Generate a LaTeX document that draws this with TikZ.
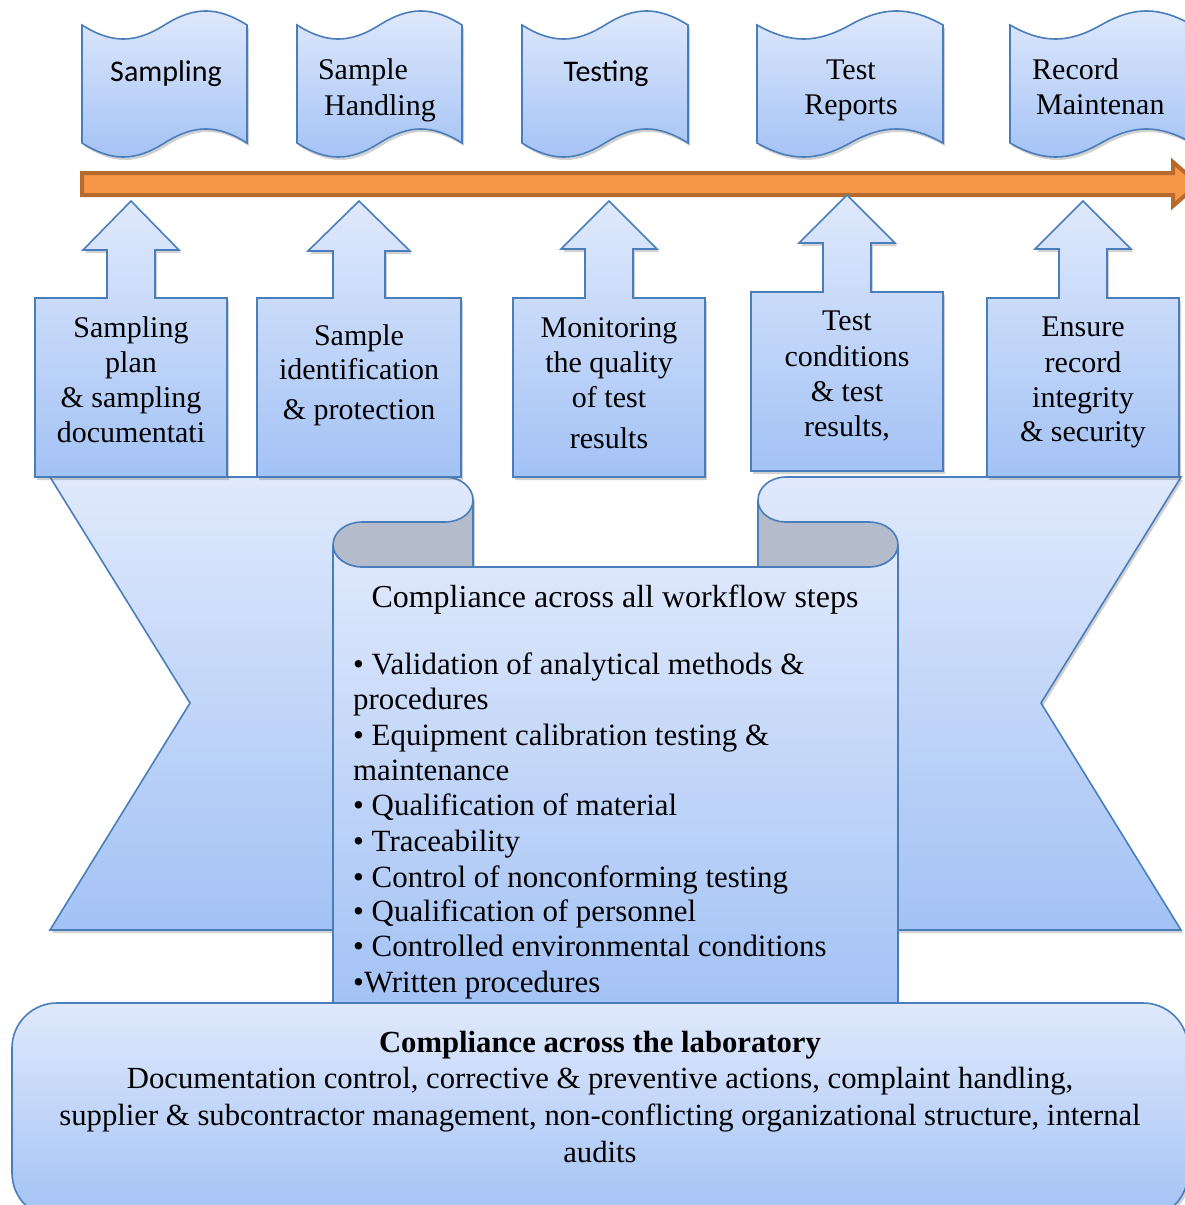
\documentclass[tikz,border=0pt]{standalone}
\usepackage{fontspec}
\setmainfont{Liberation Serif}
\newfontfamily\calfont{Carlito}
\usetikzlibrary{shadows}
\definecolor{bord}{RGB}{74,126,187}
\definecolor{lt}{RGB}{224,233,252}
\definecolor{dk}{RGB}{163,194,245}
\definecolor{fold}{RGB}{180,188,204}
\definecolor{orfill}{RGB}{247,150,70}
\definecolor{ordraw}{RGB}{182,106,46}
\tikzset{
 blueshape/.style={draw=bord, line width=1.6pt, top color=lt, bottom color=dk, line join=miter},
 shad/.style={drop shadow={shadow xshift=2pt, shadow yshift=-3pt, opacity=0.3, fill=black!60}},
 txt/.style={font=\fontsize{30}{35}\selectfont, inner sep=0pt, anchor=base},
 txtl/.style={txt, anchor=base west},
 ptxt/.style={txt, anchor=base west, font=\fontsize{30.9}{35}\selectfont},
 btxt/.style={txt, font=\fontsize{30.7}{35}\selectfont},
 sans/.style={txt, font=\calfont\fontsize{30}{35}\selectfont},
}
\newcommand\tape[2]{%
 \pgfmathsetmacro\tpW{#2-#1}%
 \pgfmathsetmacro\tpA{#1+0.18*\tpW}%
 \pgfmathsetmacro\tpB{#1+0.32*\tpW}%
 \pgfmathsetmacro\tpM{#1+0.5*\tpW}%
 \pgfmathsetmacro\tpC{#1+0.68*\tpW}%
 \pgfmathsetmacro\tpD{#1+0.82*\tpW}%
 \path[blueshape,shad] (#1,25) .. controls (\tpA,43.7) and (\tpB,43.7) .. (\tpM,25)
   .. controls (\tpC,6.3) and (\tpD,6.3) .. (#2,25) -- (#2,143)
   .. controls (\tpD,124.3) and (\tpC,124.3) .. (\tpM,143)
   .. controls (\tpB,161.7) and (\tpA,161.7) .. (#1,143) -- cycle;}
% L R top bot c headhalf stemhalf headbase tip
\newcommand\callout[9]{%
 \path[blueshape,shad] (#1,#4) -- (#1,#3) -- ({#5-#7},#3) -- ({#5-#7},#8) -- ({#5-#6},#8)
   -- (#5,#9) -- ({#5+#6},#8) -- ({#5+#7},#8) -- ({#5+#7},#3) -- (#2,#3) -- (#2,#4) -- cycle;}
\begin{document}
\begin{tikzpicture}[x=1pt,y=-1pt]
\useasboundingbox (0,0) rectangle (1184,1205);
% top tapes
\tape{82}{247}
\tape{297}{462}
\tape{522}{688}
\tape{757}{943}
\tape{1010}{1192}
\node[sans] (tp1) at (166,81) {Sampling};
\node[txt] (tp2a) at (363,79) {Sample};
\node[txt] (tp2b) at (380,115) {Handling};
\node[sans] (tp3) at (606,81) {Testing};
\node[txt] (tp4a) at (851,79) {Test};
\node[txt] (tp4b) at (851,114) {Reports};
\node[txtl] (tp5a) at (1032,79) {Record};
\node[txtl] (tp5b) at (1036,114) {Maintenan};
% orange timeline arrow
\path[fill=orfill, draw=ordraw, line width=4pt, line join=miter]
  (82,173) -- (1173,173) -- (1173,162) -- (1198,184) -- (1173,206) -- (1173,195) -- (82,195) -- cycle;
% ribbon ears
\path[blueshape,shad] (50,477) -- (445,477) .. controls (460.5,477) and (473,487.3) .. (473,500)
   -- (473,930) -- (50,930) -- (190,703) -- cycle;
\path[blueshape,shad] (1181,477) -- (786,477) .. controls (770.5,477) and (758,487.3) .. (758,500)
   -- (758,930) -- (1181,930) -- (1041,703) -- cycle;
% folds
\path[draw=bord, line width=1.6pt, fill=fold] (473,500) .. controls (473,512.7) and (460.5,522) .. (445,522)
   -- (362,522) .. controls (346,522) and (333,532) .. (333,545)
   .. controls (333,557) and (346,567) .. (362,567) -- (473,567) -- cycle;
\path[draw=bord, line width=1.6pt, fill=fold] (758,500) .. controls (758,512.7) and (770.5,522) .. (786,522)
   -- (869,522) .. controls (885,522) and (898,532) .. (898,545)
   .. controls (898,557) and (885,567) .. (869,567) -- (758,567) -- cycle;
% center panel
\path[blueshape] (333,545) .. controls (333,557) and (346,567) .. (362,567) -- (869,567)
   .. controls (885,567) and (898,557) .. (898,545) -- (898,1006) -- (333,1006) -- cycle;
% callouts
\callout{35}{227}{298}{477}{131}{48}{24}{250}{201}
\callout{257}{461}{298}{477}{359}{51}{26}{251}{201}
\callout{513}{705}{298}{477}{609}{48}{24}{249}{201}
\callout{751}{943}{292}{471}{847}{48}{24}{243}{195}
\callout{987}{1179}{298}{477}{1083}{48}{24}{249}{201}
\node[txt] (c1a) at (131,337) {Sampling};
\node[txt] (c1b) at (131,372) {plan};
\node[txt] (c1c) at (131,407) {\& sampling};
\node[txt] (c1d) at (131,442) {documentati};
\node[txt] (c2a) at (359,345) {Sample};
\node[txt] (c2b) at (359,379) {identification};
\node[txt] (c2c) at (359,419) {\& protection};
\node[txt] (c3a) at (609,337) {Monitoring};
\node[txt] (c3b) at (609,372) {the quality};
\node[txt] (c3c) at (609,407) {of test};
\node[txt] (c3d) at (609,448) {results};
\node[txt] (c4a) at (847,330) {Test};
\node[txt] (c4b) at (847,366) {conditions};
\node[txt] (c4c) at (847,401) {\& test};
\node[txt] (c4d) at (847,436) {results,};
\node[txt] (c5a) at (1083,336) {Ensure};
\node[txt] (c5b) at (1083,372) {record};
\node[txt] (c5c) at (1083,407) {integrity};
\node[txt] (c5d) at (1083,441) {\& security};
% panel text
\node[txt, font=\fontsize{32}{35}\selectfont] (ptitle) at (615,607) {Compliance across all workflow steps};
\node[ptxt] (p1) at (353,674) {• Validation of analytical methods \&};
\node[ptxt] (p2) at (353,709) {procedures};
\node[ptxt] (p3) at (353,745) {• Equipment calibration testing \&};
\node[ptxt] (p4) at (353,780) {maintenance};
\node[ptxt] (p5) at (353,815) {• Qualification of material};
\node[ptxt] (p6) at (353,851) {• Traceability};
\node[ptxt] (p7) at (353,887) {• Control of nonconforming testing};
\node[ptxt] (p8) at (353,921) {• Qualification of personnel};
\node[ptxt] (p9) at (353,956) {• Controlled environmental conditions};
\node[ptxt] (p10) at (353,992) {•Written procedures};
% bottom box
\path[blueshape,shad, rounded corners=45pt] (12,1003) rectangle (1188,1218);
\node[txt, font=\bfseries\fontsize{30.7}{35}\selectfont] (b0) at (600,1052) {Compliance across the laboratory};
\node[btxt] (b1) at (600,1088) {Documentation control, corrective \& preventive actions, complaint handling,};
\node[btxt] (b2) at (600,1125) {supplier \& subcontractor management, non-conflicting organizational structure, internal};
\node[btxt] (b3) at (600,1162) {audits};
\end{tikzpicture}
\end{document}
